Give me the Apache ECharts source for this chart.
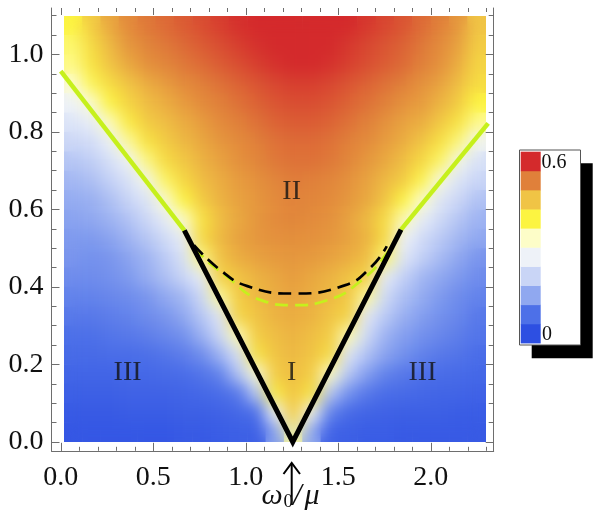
<!DOCTYPE html>
<html><head><meta charset="utf-8">
<script src="https://cdn.jsdelivr.net/npm/echarts@6/dist/echarts.min.js"></script>
<style>
html,body{margin:0;padding:0;background:#fff;}
#root{position:relative;width:601px;height:517px;overflow:hidden;background:#fff;}
#heatWrap{position:absolute;left:64px;top:16px;width:422px;height:426px;overflow:hidden;}
#heatBase,#heatBlur{position:absolute;left:0;top:0;width:422px;height:426px;}
#heatBlur{filter:blur(8px);}
#main{position:absolute;left:0;top:0;width:601px;height:517px;}
</style></head><body>
<div id="root">
  <div id="heatWrap"><div id="heatBase"></div><div id="heatBlur"></div></div>
  <div id="main"></div>
</div>
<script>
// ---------- data ----------
const xCenters = [0.05,0.15,0.25,0.35,0.45,0.55,0.65,0.75,0.85,0.95,1.05,1.15,1.25,1.35,1.45,1.55,1.65,1.75,1.85,1.95,2.05,2.15,2.25];
const yCenters = [1.075,1.025,0.975,0.925,0.875,0.825,0.775,0.725,0.675,0.625,0.575,0.525,0.475,0.425,0.375,0.325,0.275,0.225,0.175,0.125,0.075,0.025];
// rows from top (y=1.075) to bottom (y=0.025)
const heatRows = [
 [0.39,0.44,0.475,0.50,0.515,0.525,0.535,0.545,0.555,0.565,0.575,0.585,0.59,0.59,0.58,0.57,0.56,0.55,0.54,0.525,0.51,0.49,0.45],
 [0.37,0.42,0.46,0.49,0.505,0.515,0.525,0.535,0.545,0.555,0.565,0.575,0.58,0.575,0.57,0.56,0.55,0.54,0.53,0.515,0.50,0.48,0.44],
 [0.36,0.41,0.45,0.475,0.495,0.505,0.515,0.525,0.535,0.545,0.555,0.565,0.57,0.57,0.565,0.555,0.545,0.535,0.525,0.51,0.495,0.47,0.43],
 [0.32,0.38,0.42,0.45,0.47,0.485,0.50,0.51,0.52,0.53,0.54,0.55,0.555,0.555,0.55,0.54,0.53,0.52,0.51,0.495,0.48,0.455,0.42],
 [0.27,0.32,0.39,0.43,0.455,0.47,0.485,0.50,0.51,0.52,0.53,0.54,0.545,0.545,0.54,0.53,0.52,0.51,0.495,0.485,0.465,0.44,0.39],
 [0.24,0.26,0.335,0.40,0.44,0.455,0.47,0.485,0.50,0.51,0.52,0.53,0.535,0.535,0.53,0.52,0.51,0.495,0.48,0.47,0.445,0.41,0.355],
 [0.215,0.225,0.265,0.35,0.41,0.44,0.46,0.475,0.49,0.50,0.51,0.52,0.525,0.525,0.52,0.51,0.50,0.485,0.47,0.45,0.415,0.365,0.28],
 [0.19,0.20,0.23,0.27,0.36,0.42,0.445,0.465,0.48,0.495,0.505,0.515,0.52,0.52,0.515,0.505,0.49,0.475,0.455,0.425,0.375,0.29,0.235],
 [0.17,0.18,0.205,0.235,0.285,0.375,0.425,0.455,0.47,0.485,0.495,0.505,0.512,0.51,0.505,0.495,0.48,0.46,0.44,0.385,0.30,0.24,0.21],
 [0.155,0.16,0.18,0.21,0.24,0.32,0.39,0.44,0.465,0.48,0.49,0.50,0.507,0.505,0.50,0.49,0.475,0.45,0.39,0.33,0.245,0.215,0.185],
 [0.145,0.15,0.165,0.185,0.215,0.255,0.33,0.41,0.455,0.475,0.49,0.50,0.505,0.50,0.495,0.48,0.46,0.42,0.34,0.26,0.22,0.19,0.165],
 [0.135,0.135,0.145,0.165,0.19,0.22,0.26,0.42,0.46,0.48,0.49,0.495,0.497,0.495,0.49,0.48,0.465,0.42,0.27,0.225,0.195,0.17,0.15],
 [0.13,0.125,0.13,0.145,0.165,0.195,0.235,0.36,0.45,0.47,0.48,0.487,0.49,0.487,0.48,0.47,0.455,0.37,0.245,0.205,0.175,0.15,0.13],
 [0.12,0.12,0.125,0.135,0.155,0.18,0.21,0.255,0.43,0.45,0.465,0.475,0.485,0.475,0.465,0.45,0.43,0.255,0.205,0.17,0.15,0.135,0.12],
 [0.11,0.11,0.115,0.12,0.13,0.15,0.17,0.215,0.35,0.44,0.46,0.47,0.478,0.47,0.46,0.445,0.35,0.22,0.18,0.155,0.135,0.12,0.11],
 [0.10,0.10,0.105,0.11,0.12,0.13,0.15,0.19,0.245,0.43,0.45,0.465,0.47,0.465,0.45,0.43,0.25,0.195,0.16,0.14,0.125,0.115,0.10],
 [0.09,0.09,0.095,0.10,0.105,0.115,0.125,0.16,0.215,0.34,0.44,0.455,0.465,0.455,0.44,0.34,0.22,0.165,0.14,0.125,0.115,0.105,0.095],
 [0.08,0.08,0.085,0.085,0.09,0.095,0.105,0.12,0.165,0.235,0.41,0.45,0.46,0.45,0.42,0.24,0.185,0.145,0.125,0.11,0.10,0.095,0.085],
 [0.07,0.07,0.07,0.075,0.075,0.08,0.085,0.095,0.11,0.185,0.31,0.44,0.455,0.44,0.33,0.19,0.14,0.11,0.10,0.09,0.085,0.08,0.075],
 [0.06,0.06,0.06,0.065,0.065,0.065,0.07,0.075,0.085,0.10,0.19,0.40,0.45,0.41,0.19,0.125,0.10,0.085,0.08,0.075,0.07,0.07,0.065],
 [0.05,0.05,0.05,0.055,0.055,0.055,0.06,0.06,0.065,0.075,0.09,0.27,0.44,0.28,0.11,0.08,0.07,0.065,0.06,0.06,0.06,0.055,0.055],
 [0.045,0.045,0.045,0.045,0.045,0.045,0.05,0.05,0.055,0.06,0.06,0.14,0.35,0.15,0.065,0.06,0.055,0.055,0.05,0.05,0.05,0.05,0.05]
];
// colour bins, low -> high (legend 0 ... 0.6)
const heatColors = ['#2d4fe2','#4d70e8','#90a8f0','#c9d5f6','#eef2f8','#fdfdc8','#fcf441','#f0c445','#e0803a','#d42a2c'];
const legendLabels = ['0', '0.6'];

// boundary lines
const greenLeft  = [[0.0, 0.957], [0.668, 0.546]];
const greenRight = [[1.839, 0.548], [2.31, 0.822]];
const blackV     = [[0.668, 0.546], [1.254, 0.0], [1.839, 0.548]];
const blackDashed = [[0.72,0.508],[0.864,0.443],[1.009,0.402],[1.254,0.383],[1.534,0.404],[1.679,0.452],[1.762,0.505]];
const greenDashed = [[0.668,0.546],[0.745,0.49],[0.90,0.426],[1.082,0.366],[1.254,0.353],[1.444,0.366],[1.625,0.417],[1.761,0.486],[1.839,0.548]];
const regionLabels = [
  {name:'II',  value:[1.248, 0.647]},
  {name:'I',   value:[1.248, 0.179]},
  {name:'III', value:[0.361, 0.179]},
  {name:'III', value:[1.955, 0.179]}
];
const xMajor = [0, 0.5, 1.0, 1.5, 2.0];
const xMinor = [0,0.1,0.2,0.3,0.4,0.5,0.6,0.7,0.8,0.9,1.0,1.1,1.2,1.3,1.4,1.5,1.6,1.7,1.8,1.9,2.0,2.1,2.2,2.3];
const yMajor = [0, 0.2, 0.4, 0.6, 0.8, 1.0];
const yMinor = [0,0.05,0.1,0.15,0.2,0.25,0.3,0.35,0.4,0.45,0.5,0.55,0.6,0.65,0.7,0.75,0.8,0.85,0.9,0.95,1.0,1.05,1.1];
const X_MIN = -0.05, X_MAX = 2.34, Y_MIN = -0.023, Y_MAX = 1.12;

// ---------- heatmap layers ----------
function heatOption() {
  const data = [];
  heatRows.forEach((row, r) => row.forEach((v, c) => data.push([c, heatRows.length - 1 - r, v])));
  return {
    animation: false,
    grid: {left: 0, right: 0, top: 0, bottom: 0},
    xAxis: {type: 'category', data: xCenters.map(String), show: false},
    yAxis: {type: 'category', data: yCenters.slice().reverse().map(String), show: false},
    visualMap: {type: 'continuous', show: false, min: 0.03, max: 0.57, dimension: 2, inRange: {color: heatColors}},
    series: [{type: 'heatmap', data: data, silent: true, progressive: 0}]
  };
}
echarts.init(document.getElementById('heatBase')).setOption(heatOption());
echarts.init(document.getElementById('heatBlur')).setOption(heatOption());

// ---------- main chart ----------
const FONT = "'Liberation Serif','Times New Roman',serif";
const GRAY = '#6e6e6e';
const GREEN = '#c6f01c';

function xAx(position, ticks, len, line, labels) {
  return {
    type: 'value', min: X_MIN, max: X_MAX, position: position,
    axisLine: {show: line, onZero: false, lineStyle: {color: GRAY, width: 1}},
    axisTick: {show: true, inside: true, length: len, customValues: ticks, lineStyle: {color: GRAY, width: 1}},
    axisLabel: labels ? {show: true, customValues: xMajor, formatter: v => v.toFixed(1), fontFamily: FONT,
      fontSize: 28, color: '#111', margin: 27, verticalAlign: 'middle', lineHeight: 28} : {show: false},
    splitLine: {show: false}
  };
}
function yAx(position, ticks, len, line, labels) {
  return {
    type: 'value', min: Y_MIN, max: Y_MAX, position: position,
    axisLine: {show: line, onZero: false, lineStyle: {color: GRAY, width: 1}},
    axisTick: {show: true, inside: true, length: len, customValues: ticks, lineStyle: {color: GRAY, width: 1}},
    axisLabel: labels ? {show: true, customValues: yMajor, formatter: v => v.toFixed(1), fontFamily: FONT,
      fontSize: 28, color: '#111', margin: 8, lineHeight: 28} : {show: false},
    splitLine: {show: false}
  };
}

const graphic = [];
// legend: shadow, box, cells, labels
graphic.push({type: 'rect', z: 100, shape: {x: 531.7, y: 163.3, width: 61, height: 195}, style: {fill: '#000'}});
graphic.push({type: 'rect', z: 101, shape: {x: 519.5, y: 150, width: 61, height: 195}, style: {fill: '#fff', stroke: '#555', lineWidth: 1}});
const cellH = 19.13;
heatColors.forEach((col, k) => {
  graphic.push({type: 'rect', z: 102, shape: {x: 520.7, y: 343 - (k + 1) * cellH, width: 20, height: cellH + 0.4}, style: {fill: col}});
});
graphic.push({type: 'text', z: 103, x: 541.5, y: 163, style: {text: legendLabels[1], fontFamily: FONT, fontSize: 20, fill: '#111', align: 'left', verticalAlign: 'middle'}});
graphic.push({type: 'text', z: 103, x: 542, y: 335, style: {text: legendLabels[0], fontFamily: FONT, fontSize: 20, fill: '#111', align: 'left', verticalAlign: 'middle'}});
// arrow
graphic.push({type: 'line', z: 103, shape: {x1: 291.7, y1: 505, x2: 291.7, y2: 463.5}, style: {stroke: '#000', lineWidth: 2}});
graphic.push({type: 'polyline', z: 103, shape: {points: [[283.5, 474], [291.7, 463], [300, 474]]}, style: {stroke: '#000', lineWidth: 2, fill: null}});
// axis title  omega_0 / mu
graphic.push({type: 'text', z: 103, x: 261.5, y: 496, style: {text: 'ω', fontFamily: FONT, fontStyle: 'italic', fontSize: 30, fill: '#111', align: 'left', verticalAlign: 'middle'}});
graphic.push({type: 'text', z: 103, x: 283.5, y: 502.5, style: {text: '0', fontFamily: FONT, fontSize: 19, fill: '#111', align: 'left', verticalAlign: 'middle'}});
graphic.push({type: 'text', z: 103, x: 293, y: 497, style: {text: '/', fontFamily: FONT, fontStyle: 'italic', fontSize: 31, fill: '#111', align: 'left', verticalAlign: 'middle'}});
graphic.push({type: 'text', z: 103, x: 304.5, y: 496, style: {text: 'μ', fontFamily: FONT, fontStyle: 'italic', fontSize: 30, fill: '#111', align: 'left', verticalAlign: 'middle'}});

const main = echarts.init(document.getElementById('main'));
main.setOption({
  animation: false,
  grid: {left: 51.5, right: 107.3, top: 8, bottom: 66.2},
  xAxis: [
    xAx('bottom', xMajor, 8, true, true),
    xAx('bottom', xMinor, 4, false, false),
    xAx('top', xMajor, 7, false, false),
    xAx('top', xMinor, 4, false, false)
  ],
  yAxis: [
    yAx('left', yMajor, 8, true, true),
    yAx('left', yMinor, 5, false, false),
    yAx('right', yMajor, 8, true, false),
    yAx('right', yMinor, 5, false, false)
  ],
  series: [
    {type: 'line', data: greenDashed, smooth: true, symbol: 'none', silent: true, z: 2,
     lineStyle: {color: GREEN, width: 2.7, type: [13, 7]}},
    {type: 'line', data: blackDashed, smooth: true, symbol: 'none', silent: true, z: 3,
     lineStyle: {color: '#000', width: 2.7, type: [13, 7]}},
    {type: 'line', data: greenLeft, symbol: 'none', silent: true, z: 4, lineStyle: {color: GREEN, width: 4.5}},
    {type: 'line', data: greenRight, symbol: 'none', silent: true, z: 4, lineStyle: {color: GREEN, width: 4.5}},
    {type: 'line', data: blackV, symbol: 'none', silent: true, z: 5,
     lineStyle: {color: '#000', width: 5, join: 'miter', miterLimit: 10}},
    {type: 'scatter', data: regionLabels, symbolSize: 1, silent: true, z: 6,
     itemStyle: {color: 'rgba(0,0,0,0)'},
     label: {show: true, position: 'inside', formatter: '{b}', fontFamily: FONT, fontSize: 28, color: '#111'}}
  ],
  graphic: graphic
});
</script>
</body></html>
